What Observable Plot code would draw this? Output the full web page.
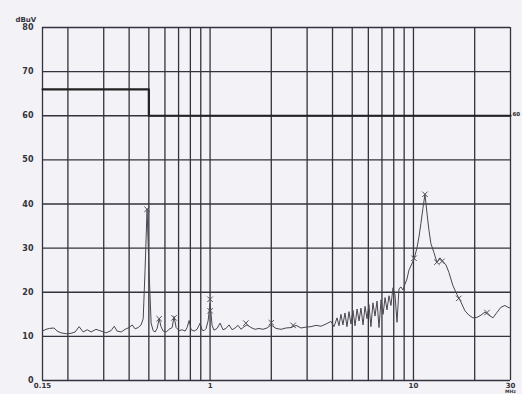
<!DOCTYPE html>
<html>
<head>
<meta charset="utf-8">
<script src="https://cdn.jsdelivr.net/npm/d3@7"></script>
<script src="https://cdn.jsdelivr.net/npm/@observablehq/plot@0.6"></script>
<style>
  html, body { margin: 0; padding: 0; background: #f3f2f7; }
  #chart { width: 522px; height: 394px; }
  svg { display: block; }
</style>
</head>
<body>
<div id="chart"></div>
<script>
// Measured trace (MHz, dBuV)
const traceFreq = [0.15,0.156,0.162,0.171,0.177,0.185,0.196,0.2075,0.217,0.227,0.2377,0.249,0.26,0.275,0.291,0.308,0.326,0.338,0.349,0.366,0.382,0.4,0.414,0.428,0.443,0.458,0.469,0.479,0.49,0.501,0.513,0.525,0.537,0.549,0.562,0.574,0.588,0.608,0.629,0.651,0.665,0.681,0.705,0.729,0.754,0.771,0.789,0.807,0.834,0.863,0.893,0.914,0.935,0.956,0.978,1.0,1.023,1.046,1.082,1.12,1.158,1.198,1.24,1.283,1.327,1.373,1.42,1.469,1.52,1.589,1.664,1.741,1.82,1.906,1.995,2.11,2.233,2.362,2.5,2.647,2.8,2.963,3.135,3.318,3.51,3.715,3.93,4.067,4.21,4.305,4.4,4.5,4.605,4.71,4.82,4.93,5.04,5.16,5.28,5.4,5.52,5.65,5.78,5.91,6.04,6.18,6.32,6.47,6.62,6.77,6.93,7.09,7.25,7.41,7.58,7.75,7.93,8.11,8.3,8.49,8.68,8.88,9.08,9.29,9.5,9.72,10.06,10.4,10.64,10.88,11.13,11.39,11.65,11.92,12.19,12.61,13.04,13.49,13.96,14.44,14.94,15.63,16.36,17.11,17.91,18.74,19.6,20.51,21.46,22.46,23.5,24.59,25.72,26.91,28.16,29.14,30];
const traceLevel = [11.2,11.6,11.8,11.9,11.2,10.8,10.6,10.7,11.0,12.2,11.0,11.5,11.0,11.6,11.2,10.8,11.3,12.3,11.2,11.0,11.6,12.0,12.6,11.7,12.0,12.6,14,25,38.8,25,13,11.3,11.0,11.8,14.0,12.2,11.2,11.0,11.6,12.0,14.5,12.0,11.3,11.5,11.2,12.0,13.6,11.5,11.2,11.6,13.0,11.4,11.3,11.8,13.5,17.5,12.5,11.4,11.8,13.0,11.5,11.8,12.6,11.5,11.9,12.5,11.6,12.2,12.6,12.0,11.6,11.8,11.6,11.9,12.6,11.8,11.6,11.9,12.0,12.5,11.9,12.1,12.2,12.5,12.3,12.8,13.4,12.2,14.2,12.4,15.0,12.6,15.3,12.2,15.6,12.8,15.9,12.4,16.2,13.5,16.4,12.6,16.8,14.0,17.2,12.2,17.6,14.6,18.0,12.0,18.3,15.0,18.8,16.0,19.2,17.0,21.0,19.5,13.2,20.8,21.2,20.5,21.8,23,25,26,27.5,30,32.5,35.6,39,42.2,38,34,31,29,26.8,27.8,27.0,26.2,24.5,21.5,19.5,17.8,15.8,14.8,14.2,14.3,14.8,15.5,14.8,14.2,15.4,16.6,17.0,16.6,16.4];

// Peak markers (×)
const markerFreq = [0.49,0.562,0.665,1.0,1.0,1.5,2.0,2.56,10.06,11.39,13.04,13.8,16.7,23.0];
const markerLevel = [38.8,14.0,14.2,18.4,15.8,13.0,13.1,12.5,27.7,42.2,26.8,27.0,18.6,15.4];

// Limit line
const limitFreq = [0.15,0.5,0.5,30];
const limitLevel = [66,66,60,60];

// Grid and tick labels
const gridFreq = [0.15,0.2,0.3,0.4,0.5,0.6,0.7,0.8,0.9,1,2,3,4,5,6,7,8,9,10,20,30];
const gridLevel = [0,10,20,30,40,50,60,70,80];
const xTickValues = [0.15,1,10,30];
const xTickLabels = ["0.15","1","10","30"];

const trace = traceFreq.map((f,i) => ({f, v: traceLevel[i]}));
const markers = markerFreq.map((f,i) => ({f, v: markerLevel[i]}));
const limit = limitFreq.map((f,i) => ({f, v: limitLevel[i]}));
const xTicks = xTickValues.map((f,i) => ({f, label: xTickLabels[i]}));

const ink = "#34323c";
const font = "'DejaVu Sans', sans-serif";

const chart = Plot.plot({
  width: 522,
  height: 394,
  marginLeft: 42,
  marginRight: 12,
  marginTop: 27,
  marginBottom: 14,
  style: {background: "#f3f2f7", fontFamily: font, fontSize: "8px", fontWeight: "bold", color: ink},
  x: {type: "log", domain: [0.15, 30], axis: null},
  y: {domain: [0, 80]},
  marks: [
    Plot.ruleX(gridFreq, {stroke: ink, strokeWidth: 1.3}),
    Plot.ruleY(gridLevel, {stroke: ink, strokeWidth: 1.3}),
    Plot.line(limit, {x: "f", y: "v", stroke: "#222", strokeWidth: 2.2}),
    Plot.line(trace, {x: "f", y: "v", stroke: "#4a4650", strokeWidth: 1}),
    Plot.dot(markers, {x: "f", y: "v", symbol: "times", r: 2.6, stroke: "#55505a", strokeWidth: 1}),
    Plot.axisY(gridLevel, {tickSize: 0, tickPadding: 9, fontSize: 8, fill: ink, label: null}),
    Plot.text(xTicks, {x: "f", frameAnchor: "bottom", dy: 5, text: "label", fontSize: 7, fill: ink, lineAnchor: "middle"}),
    Plot.text(["dBuV"], {frameAnchor: "top-left", dx: -27, dy: -10, fontSize: 7, fill: ink, textAnchor: "start"}),
    Plot.text(["MHz"], {x: [30], frameAnchor: "bottom", dy: 11, fontSize: 4.5, fill: ink, textAnchor: "middle", lineAnchor: "middle"}),
    Plot.text(["60"], {x: [30], y: [60], dx: 2, dy: -2, fontSize: 5.5, fill: "#222", textAnchor: "start"})
  ]
});
document.getElementById("chart").appendChild(chart);
</script>
</body>
</html>
